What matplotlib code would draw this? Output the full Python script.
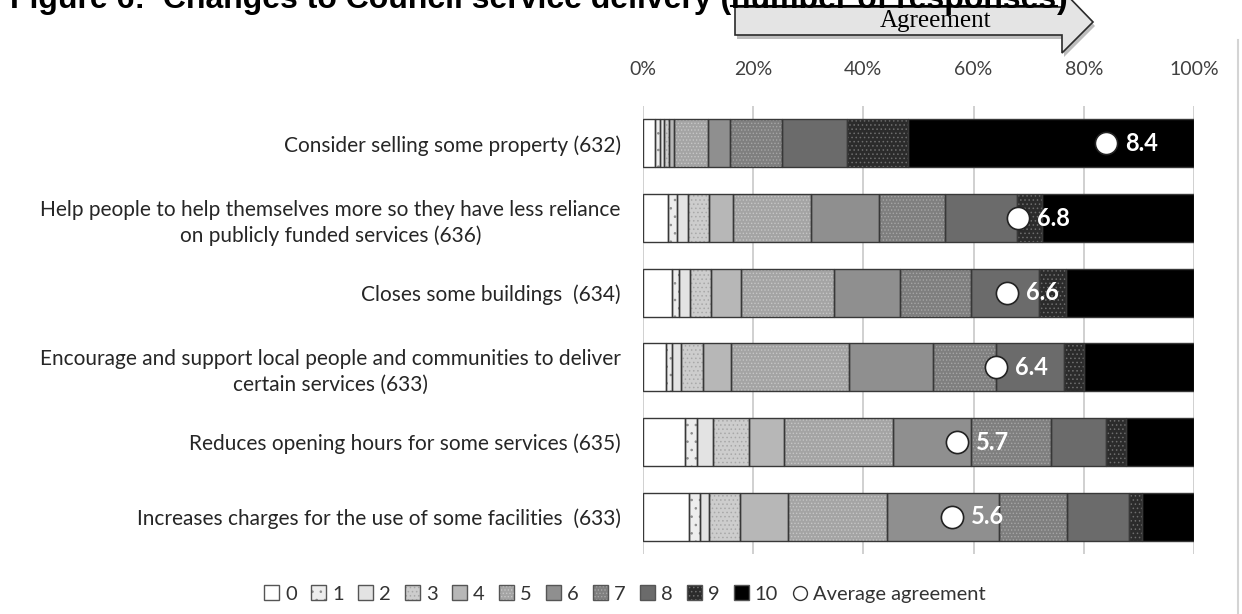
import matplotlib.pyplot as plt
import numpy as np
from matplotlib.patches import Patch, Polygon
from matplotlib.lines import Line2D
from matplotlib.legend_handler import HandlerTuple

plt.rcParams['font.family'] = ['Lato', 'DejaVu Sans']
plt.rcParams['hatch.linewidth'] = 0.6

W, H = 1242, 614

statements = [
    'Consider selling some property (632)',
    'Help people to help themselves more so they have less reliance\non publicly funded services (636)',
    'Closes some buildings  (634)',
    'Encourage and support local people and communities to deliver\ncertain services (633)',
    'Reduces opening hours for some services (635)',
    'Increases charges for the use of some facilities  (633)',
]
scores = [str(s) for s in range(11)]

# share of responses (%) for scores 0..10
selling_property = [2.2, 0.8, 0.8, 1.0, 0.9, 6.1, 4.0, 9.4, 11.9, 11.1, 51.9]
help_themselves = [4.5, 1.7, 1.9, 3.8, 4.4, 14.2, 12.3, 11.9, 13.0, 4.5, 27.6]
close_buildings = [5.3, 1.3, 1.9, 3.8, 5.4, 16.9, 11.9, 12.9, 12.3, 5.0, 23.1]
local_delivery = [4.1, 1.2, 1.6, 4.0, 5.0, 21.5, 15.2, 11.4, 12.3, 3.6, 19.9]
opening_hours = [7.6, 2.1, 3.0, 6.5, 6.3, 19.7, 14.2, 14.5, 10.0, 3.6, 12.3]
raise_charges = [8.3, 2.1, 1.6, 5.6, 8.8, 17.9, 20.4, 12.3, 11.3, 2.3, 9.5]
averages = [8.4, 6.8, 6.6, 6.4, 5.7, 5.6]

rows = [selling_property, help_themselves, close_buildings,
        local_delivery, opening_hours, raise_charges]

fills = ['#ffffff', '#ededed', '#e3e3e3', '#cdcdcd', '#b7b7b7', '#a4a4a4',
         '#8f8f8f', '#7f7f7f', '#6b6b6b', '#2b2b2b', '#000000']
hatches = [None, '..', None, '....', None, '.....', None, '.....', None, '....', None]
hatch_colors = ['none', '#8c8c8c', 'none', '#a8a8a8', 'none', '#c6c6c6',
                'none', '#a6a6a6', 'none', '#6e6e6e', 'none']

fig = plt.figure(figsize=(W / 100, H / 100), dpi=100)
ax = fig.add_axes([643 / W, 1 - 554 / H, 551 / W, 448 / H])

y = np.arange(len(statements))
shares = np.array(rows, dtype=float)
shares = shares / shares.sum(axis=1, keepdims=True) * 100

left = np.zeros(len(statements))
handles = []
for i, score in enumerate(scores):
    ax.barh(y, shares[:, i], left=left, height=0.64, color=fills[i],
            hatch=hatches[i], edgecolor=hatch_colors[i], linewidth=0, zorder=2)
    ax.barh(y, shares[:, i], left=left, height=0.64, color='none',
            edgecolor='#383838', linewidth=1, zorder=3)
    left += shares[:, i]
    handles.append((Patch(facecolor=fills[i], hatch=hatches[i],
                          edgecolor=hatch_colors[i], linewidth=0),
                    Patch(facecolor='none', edgecolor='#555555', linewidth=1)))

avg_x = np.array(averages) * 10
ax.plot(avg_x, y, 'o', ms=16, mfc='white', mec='#222222', mew=1.2, zorder=4)
for yi, avg in zip(y, averages):
    ax.text(avg * 10 + 3.5, yi, f'{avg:.1f}', color='white', fontweight='bold',
            fontsize=17, va='center', ha='left', zorder=5)

ax.set_xlim(0, 100)
ax.set_ylim(len(statements) - 0.5, -0.5)
ax.set_xticks(range(0, 101, 20))
ax.set_xticklabels([f'{t}%' for t in range(0, 101, 20)])
ax.xaxis.tick_top()
ax.set_yticks(y)
ax.set_yticklabels(statements, ma='center', linespacing=1.35)
ax.tick_params(axis='x', length=0, pad=20, labelsize=14, labelcolor='#404040')
ax.tick_params(axis='y', length=0, pad=16, labelsize=15, labelcolor='#262626')
ax.grid(axis='x', color='#c8c8c8', linewidth=1.2, zorder=0)
ax.set_axisbelow(True)
for s in ax.spines.values():
    s.set_visible(False)

# clipped title at the very top
r = fig.canvas.get_renderer()
base = 1 - 8 / H
tkw = dict(fontsize=23, fontweight='bold', family='Liberation Sans', va='baseline')
t1 = fig.text(10 / W, base, 'Figure 6:  Changes to Council service delivery (', **tkw)
b1 = t1.get_window_extent(r)
t2 = fig.text(b1.x1 / W, base, 'number of responses', **tkw)
b2 = t2.get_window_extent(r)
fig.text(b2.x1 / W, base, ')', **tkw)
fig.add_artist(Line2D([b2.x0 / W, b2.x1 / W], [1 - 6 / H, 1 - 6 / H], color='black', lw=1.5))

# "Agreement" arrow
pts = [(735, 7), (1062, 7), (1062, -10), (1093, 22), (1062, 53), (1062, 35), (735, 35)]
shadow = Polygon([((px + 2) / W, 1 - (py + 4) / H) for px, py in pts], closed=True,
                 facecolor='#bdbdbd', edgecolor='none', transform=fig.transFigure)
arrow = Polygon([(px / W, 1 - py / H) for px, py in pts], closed=True,
                facecolor='#e4e4e4', edgecolor='#2a2a2a', lw=1.2, transform=fig.transFigure)
fig.add_artist(shadow)
fig.add_artist(arrow)
fig.text(936 / W, 1 - 27.5 / H, 'Agreement', family='Liberation Serif', fontsize=18,
         ha='center', va='baseline')

# faint frame line at the right edge of the original page
fig.add_artist(Line2D([1238 / W, 1238 / W], [0, 1 - 40 / H], color='#d4d4d4', lw=1.5))

handles.append(Line2D([], [], marker='o', ls='none', mfc='white', mec='#333333', ms=10))
fig.legend(handles, scores + ['Average agreement'], loc='center',
           bbox_to_anchor=(625 / W, 1 - 594 / H), ncol=12, frameon=False,
           handler_map={tuple: HandlerTuple(ndivide=1)}, handlelength=0.75,
           handleheight=0.75, handletextpad=0.3, columnspacing=0.7,
           fontsize=14.5, labelcolor='#333333')

fig.savefig('out.png', dpi=100)
